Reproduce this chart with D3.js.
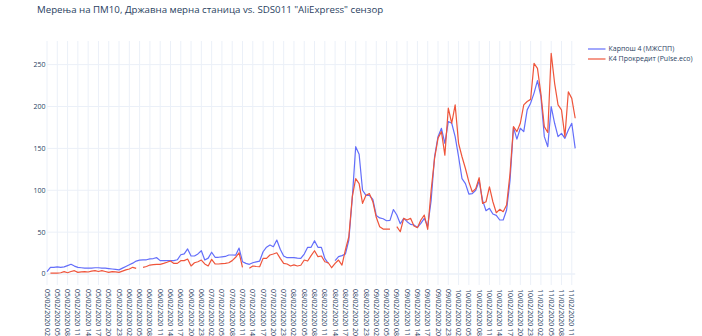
<!DOCTYPE html>
<html><head><meta charset="utf-8">
<script src="https://cdn.jsdelivr.net/npm/d3@7"></script>
<style>body{margin:0;background:#fff}svg{display:block}text{font-family:"Open Sans",verdana,arial,sans-serif}</style>
</head><body>
<svg id="c" width="702" height="336"></svg>
<script>
const title = 'Мерења на ПМ10, Државна мерна станица vs. SDS011 "AliExpress" сензор';
const seriesNames = ["Карпош 4 (МЖСПП)", "К4 Прокредит (Pulse.eco)"];
const seriesColors = ["#636efa", "#EF553B"];
const startTime = new Date(2020, 1, 5, 2);
const pointCount = 155;
const yTicks = [0, 50, 100, 150, 200, 250];

const karpos = [3,8,8,8.5,8,8.5,10,11.6,9.5,8,7.5,7,7,7,7.5,7.5,7,7,6.5,6,
5.5,5,7,9,11,13,15.5,16.5,17,17,18,18.5,19.5,16,16,16,16,16,17,23,
24,30,21.5,21.5,24,27.8,16.7,19,26,20,20,20.5,21,22.7,22.7,22.5,31,14.7,12.7,11.6,
13.5,14.5,15.5,26.6,32,34.6,32.6,40.6,29.5,21.5,19.5,19.5,19.5,19,18.7,23.9,31.9,31.9,39.8,31.9,
31.9,18.7,12.7,null,15.9,20.7,22,23.9,40.6,90,152,143,100,94,94,89,70,67,66,63.6,
64,77,70.4,60,66.5,62.5,59.3,58.5,55.7,60.5,66.5,57,88,140,164,174,156,182,180,164,
140,114,108,95.5,96,100,111,88,75.6,78.4,71.6,70,64.5,64.5,76.4,112,175,161,174,170,
196,204,216,231,212,164,152,200,180,164,168,162,172,180,150];

const prokredit = [null,1,1,1,1.5,2.8,1.5,3,4,2,2.5,2.8,2.4,3.5,4,3,4,3,2,2.8,
2.5,2,3.5,5,6,8,6.8,null,8,9,10.7,11.2,11.6,11.6,12.7,14,15.5,12.7,12.7,15.9,
16,17.9,9.6,13.5,14.7,16.7,12,9.6,17.5,12,12,12.5,12.7,13.5,16,20,25.4,8,null,6.8,
9.6,9,8.7,18.7,18.7,22.7,23.9,25.4,18.7,12.7,12,9.6,11,9.6,10.5,16.7,15.5,22,27.8,20.7,
21.5,14.7,13.5,7.5,12.7,16.7,10.7,28.7,44.5,92,114,108,84.4,94,96,86.3,67.7,56.5,53.7,53.7,
53.7,null,56.5,50.5,66.5,64.5,66.5,57.3,55.3,64.5,70.4,53.4,100,138,162,170,142,198,180,202,
156,140,126,110,98,102,115,84.4,86.3,104,86.3,73.2,77.2,74.4,82.4,120,176,170,180,202,
206,208.5,251.5,245.6,215,176,169,263.5,227.7,202,196,164,217.6,209.7,186];

const fmt = d3.timeFormat("%d/%m/%Y %H");
const categories = d3.range(pointCount).map(i => fmt(d3.timeHour.offset(startTime, i)));
const tickCategories = categories.filter((c, i) => i % 3 === 0);

const L = 47, R = 575.2, T = 41, B = 285;
const svg = d3.select("#c");
const x = d3.scalePoint().domain(categories).range([L, R]).padding(0);
const y = d3.scaleLinear().domain([-13.1, 278.2]).range([B, T]);

const grid = svg.append("g");
grid.selectAll("line.v").data(tickCategories).join("line")
  .attr("x1", d => x(d)).attr("x2", d => x(d)).attr("y1", T).attr("y2", B)
  .attr("stroke", "#EBF0F8").attr("stroke-width", 1);
grid.selectAll("line.h").data(yTicks).join("line")
  .attr("x1", L).attr("x2", R).attr("y1", d => y(d)).attr("y2", d => y(d))
  .attr("stroke", "#EBF0F8").attr("stroke-width", d => d === 0 ? 1.5 : 1);

svg.append("g").selectAll("text").data(yTicks).join("text")
  .attr("x", 45.5).attr("y", d => y(d)).attr("dy", "0.35em")
  .attr("text-anchor", "end").attr("font-size", 7).attr("fill", "#2a3f5f")
  .text(d => d);

svg.append("g").selectAll("text").data(tickCategories).join("text")
  .attr("transform", d => `translate(${x(d)},289) rotate(90)`)
  .attr("dy", "0.35em").attr("text-anchor", "start")
  .attr("font-size", 7).attr("fill", "#2a3f5f")
  .text(d => d);

const line = d3.line().defined(d => d.v != null).x(d => x(d.c)).y(d => y(d.v));
[karpos, prokredit].forEach((s, k) => {
  svg.append("path")
    .datum(s.map((v, i) => ({c: categories[i], v})))
    .attr("fill", "none").attr("stroke", seriesColors[k]).attr("stroke-width", 1.2)
    .attr("stroke-linejoin", "round")
    .attr("d", line);
});

const leg = svg.append("g");
seriesNames.forEach((n, k) => {
  const g = leg.append("g").attr("transform", `translate(588,${49 + k * 10})`);
  g.append("line").attr("x1", 0).attr("x2", 17.5).attr("y1", 0).attr("y2", 0)
    .attr("stroke", seriesColors[k]).attr("stroke-width", 1.2);
  g.append("text").attr("x", 20.5).attr("y", 0).attr("dy", "0.35em")
    .attr("font-size", 7).attr("fill", "#2a3f5f").text(n);
});

svg.append("text").attr("x", 37).attr("y", 12.5)
  .attr("font-size", 9.7).attr("fill", "#2a3f5f").text(title);
</script>
</body></html>
